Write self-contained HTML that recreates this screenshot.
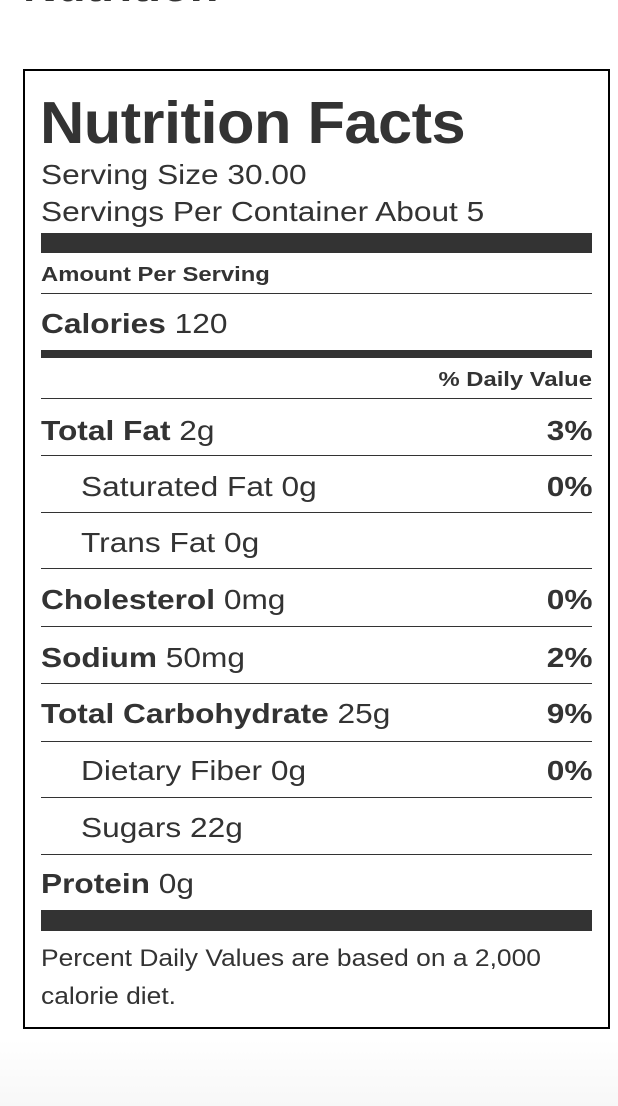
<!DOCTYPE html>
<html><head><meta charset="utf-8"><style>
html,body{margin:0;padding:0;background:#fff;}
body{width:618px;height:1106px;position:relative;overflow:hidden;font-family:"Liberation Sans",Arial,sans-serif;color:#333;}
.t{position:absolute;white-space:nowrap;line-height:1;transform-origin:left top;}
.r{position:absolute;right:26px;white-space:nowrap;line-height:1;font-weight:bold;transform-origin:right top;}
.l{position:absolute;left:41px;width:551px;height:1px;background:#333;}
.b{position:absolute;left:41px;width:551px;background:#333;}
.s28{font-size:28px;transform:scaleX(1.13);}
b{font-weight:bold;}
</style></head><body>
<div style="position:absolute;left:0;right:0;top:1040px;height:66px;background:linear-gradient(#fff,#f7f7f7);"></div>
<div class="t" style="left:23px;top:-38px;font-size:46px;font-weight:bold;color:#333;transform:scaleX(1.02);">Nutrition</div>
<div style="position:absolute;left:23px;top:69px;width:583px;height:956px;border:2px solid #000;background:#fff;"></div>

<div class="t" style="left:40px;top:94px;font-size:59px;font-weight:bold;letter-spacing:-0.5px;transform:scaleX(1.04);">Nutrition Facts</div>
<div class="t s28" style="left:41px;top:161px;">Serving Size 30.00</div>
<div class="t s28" style="left:41px;top:198px;">Servings Per Container About 5</div>
<div class="b" style="top:233px;height:20px;"></div>
<div class="t" style="left:41px;top:265px;font-size:20px;font-weight:bold;transform:scaleX(1.19);">Amount Per Serving</div>
<div class="l" style="top:293px;"></div>
<div class="t s28" style="left:41px;top:310px;"><b>Calories</b> 120</div>
<div class="b" style="top:350px;height:8px;"></div>
<div class="r" style="top:370px;font-size:20px;transform:scaleX(1.19);">% Daily Value</div>
<div class="l" style="top:398px;"></div>

<div class="t s28" style="left:41px;top:417px;"><b>Total Fat</b> 2g</div>
<div class="r s28" style="top:417px;">3%</div>
<div class="l" style="top:455px;"></div>
<div class="t s28" style="left:81px;top:473px;">Saturated Fat 0g</div>
<div class="r s28" style="top:473px;">0%</div>
<div class="l" style="top:512px;"></div>
<div class="t s28" style="left:81px;top:529px;">Trans Fat 0g</div>
<div class="l" style="top:568px;"></div>
<div class="t s28" style="left:41px;top:586px;"><b>Cholesterol</b> 0mg</div>
<div class="r s28" style="top:586px;">0%</div>
<div class="l" style="top:626px;"></div>
<div class="t s28" style="left:41px;top:644px;"><b>Sodium</b> 50mg</div>
<div class="r s28" style="top:644px;">2%</div>
<div class="l" style="top:683px;"></div>
<div class="t s28" style="left:41px;top:700px;"><b>Total Carbohydrate</b> 25g</div>
<div class="r s28" style="top:700px;">9%</div>
<div class="l" style="top:741px;"></div>
<div class="t s28" style="left:81px;top:757px;">Dietary Fiber 0g</div>
<div class="r s28" style="top:757px;">0%</div>
<div class="l" style="top:797px;"></div>
<div class="t s28" style="left:81px;top:814px;">Sugars 22g</div>
<div class="l" style="top:854px;"></div>
<div class="t s28" style="left:41px;top:870px;"><b>Protein</b> 0g</div>
<div class="b" style="top:910px;height:21px;"></div>
<div class="t" style="left:41px;top:947px;font-size:24px;transform:scaleX(1.10);">Percent Daily Values are based on a 2,000</div>
<div class="t" style="left:41px;top:985px;font-size:24px;transform:scaleX(1.10);">calorie diet.</div>
</body></html>
